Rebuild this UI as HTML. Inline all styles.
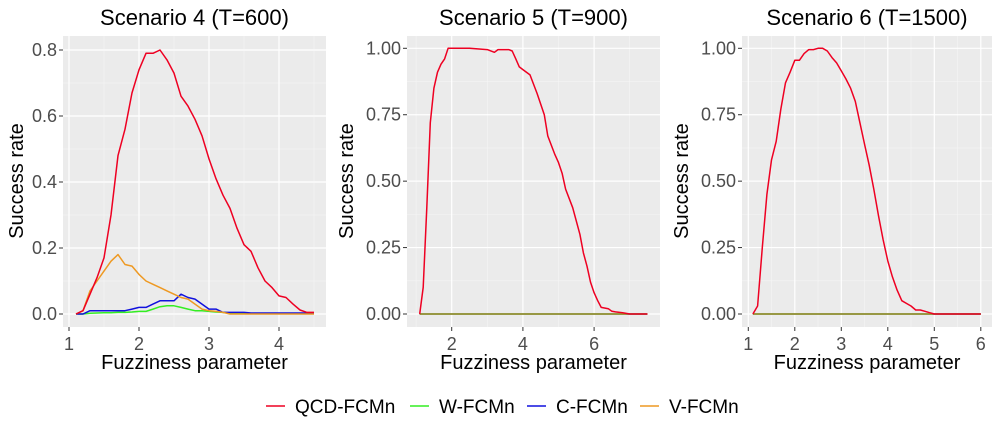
<!DOCTYPE html>
<html><head><meta charset="utf-8"><style>
body{margin:0;background:#fff;}
svg{display:block;font-family:"Liberation Sans",Arial,sans-serif;}
</style></head><body>
<svg id="c" width="1000" height="430"></svg>
<script>
const NS="http://www.w3.org/2000/svg";
const seriesNames=["QCD-FCMn","W-FCMn","C-FCMn","V-FCMn"];
const seriesColors=["#ee0022","#33ee22","#1111dd","#ee9922"];
// Scenario 4
const s4x=[1.1,1.2,1.3,1.4,1.5,1.6,1.7,1.8,1.9,2.0,2.1,2.2,2.3,2.4,2.5,2.6,2.7,2.8,2.9,3.0,3.1,3.2,3.3,3.4,3.5,3.6,3.7,3.8,3.9,4.0,4.1,4.2,4.3,4.4,4.5];
const s4red=[0,0.01,0.06,0.11,0.17,0.3,0.48,0.56,0.67,0.74,0.79,0.79,0.80,0.77,0.73,0.66,0.63,0.59,0.54,0.47,0.41,0.36,0.32,0.26,0.21,0.19,0.14,0.10,0.08,0.055,0.05,0.03,0.012,0.005,0.005];
const s4green=[0,0,0.002,0.003,0.004,0.004,0.005,0.005,0.006,0.008,0.008,0.015,0.022,0.025,0.025,0.02,0.015,0.01,0.01,0.008,0.006,0.005,0.003,0.002,0.002,0.002,0.002,0.002,0.002,0.002,0.002,0.002,0.002,0.002,0.002];
const s4blue=[0,0,0.01,0.01,0.01,0.01,0.01,0.01,0.015,0.02,0.02,0.03,0.04,0.04,0.04,0.06,0.05,0.045,0.03,0.015,0.015,0.005,0.005,0.005,0.005,0.003,0.003,0.003,0.003,0.003,0.003,0.003,0.003,0.003,0.003];
const s4orange=[0,0.01,0.07,0.10,0.13,0.16,0.18,0.15,0.145,0.12,0.10,0.09,0.08,0.07,0.06,0.05,0.045,0.03,0.015,0.01,0.008,0.005,0,0,0,0,0,0,0,0,0,0,0,0,0];
// Scenario 5
const s5x=[1.1,1.2,1.3,1.4,1.5,1.6,1.7,1.8,1.9,2.0,2.5,3.0,3.2,3.3,3.6,3.7,3.8,3.9,4.0,4.2,4.4,4.6,4.7,4.9,5.0,5.1,5.2,5.4,5.6,5.7,5.8,5.9,6.0,6.1,6.2,6.4,6.5,6.6,6.8,7.0,7.5];
const s5red=[0,0.1,0.4,0.72,0.85,0.91,0.94,0.96,1.0,1.0,1.0,0.995,0.985,0.995,0.995,0.99,0.96,0.93,0.92,0.9,0.83,0.75,0.67,0.6,0.57,0.53,0.47,0.4,0.3,0.23,0.18,0.12,0.08,0.05,0.025,0.02,0.01,0.008,0.005,0,0];
const s5flatx=[1.1,7.5];
const s5flat=[0,0];
// Scenario 6
const s6x=[1.1,1.2,1.3,1.4,1.5,1.6,1.7,1.8,1.9,2.0,2.1,2.2,2.3,2.4,2.5,2.6,2.7,2.8,2.9,3.0,3.1,3.2,3.3,3.4,3.5,3.6,3.7,3.8,3.9,4.0,4.1,4.2,4.3,4.4,4.5,4.6,4.7,4.8,4.9,5.0,6.0];
const s6red=[0,0.03,0.25,0.45,0.58,0.65,0.77,0.87,0.91,0.955,0.955,0.98,0.995,0.995,1.0,1.0,0.99,0.965,0.945,0.915,0.885,0.85,0.8,0.72,0.64,0.56,0.47,0.37,0.28,0.2,0.14,0.09,0.05,0.04,0.03,0.015,0.015,0.01,0.005,0,0];
const s6flatx=[1.1,6.0];
const s6flat=[0,0];
const s4xt=[1,2,3,4], s4yt=[0,0.2,0.4,0.6,0.8], s4yl=["0.0","0.2","0.4","0.6","0.8"];
const s5xt=[2,4,6], s5yt=[0,0.25,0.5,0.75,1], s5yl=["0.00","0.25","0.50","0.75","1.00"];
const s6xt=[1,2,3,4,5,6];

const svg=document.getElementById('c');
function el(t,a,p){const e=document.createElementNS(NS,t);for(const k in a)e.setAttribute(k,a[k]);(p||svg).appendChild(e);return e;}
function txt(s,a,p){const e=el('text',a,p);e.textContent=s;return e;}

function panel(o){
  const g=el('g',{});
  
  
  const X=v=>o.px0+(v-o.x0)*o.kx, Y=v=>o.py0-v*o.ky;
  const bg=el('rect',{x:o.L,y:36,width:o.R-o.L,height:291,fill:'#ebebeb'},g);
  
  for(let i=0;i<o.xt.length+1;i++){const v=o.xt[0]+(i-0.5)*(o.xt[1]-o.xt[0]);const x=X(v);if(x>o.L&&x<o.R)el('line',{x1:x,x2:x,y1:36,y2:327,stroke:'#f5f5f5','stroke-width':0.6},g);}
  for(let i=0;i<o.yt.length-1;i++){const y=Y((o.yt[i]+o.yt[i+1])/2);el('line',{x1:o.L,x2:o.R,y1:y,y2:y,stroke:'#f5f5f5','stroke-width':0.6},g);}
  o.xt.forEach(v=>{const x=X(v);
    el('line',{x1:x,x2:x,y1:36,y2:327,stroke:'#fff','stroke-width':1.2},g);
    el('line',{x1:x,x2:x,y1:327,y2:331,stroke:'#333','stroke-width':1},g);
    const t=txt(String(v),{x:x,y:350,'text-anchor':'middle','font-size':18,fill:'#4d4d4d'},g);
    });
  o.yt.forEach((v,i)=>{const y=Y(v);
    el('line',{x1:o.L,x2:o.R,y1:y,y2:y,stroke:'#fff','stroke-width':1.2},g);
    el('line',{x1:o.L-4,x2:o.L,y1:y,y2:y,stroke:'#333','stroke-width':1},g);
    const t=txt(o.yl[i],{x:o.L-6,y:y+6,'text-anchor':'end','font-size':18,fill:'#4d4d4d'},g);
    });
  o.series.forEach(s=>{
    const d=s.x.map((v,i)=>(i?'L':'M')+X(v).toFixed(1)+','+Y(s.y[i]).toFixed(1)).join('');
    const p=el('path',{d:d,fill:'none',stroke:s.c,'stroke-width':1.5,'stroke-linejoin':'round'},g);
    });
  const tt=txt(o.title,{x:(o.L+o.R)/2,y:25,'text-anchor':'middle','font-size':22,fill:'#000'},g);
  
  const xt=txt('Fuzziness parameter',{x:(o.L+o.R)/2,y:369,'text-anchor':'middle','font-size':20,fill:'#000'},g);
  
  const yx=o.yx;
  const yt=txt('Success rate',{x:yx,y:181,'text-anchor':'middle','font-size':20,fill:'#000',transform:`rotate(-90 ${yx} 181)`},g);
  
}
panel({name:'scenario-4-panel',title:'Scenario 4 (T=600)',L:63,R:326,yx:23,px0:69,x0:1,kx:70,py0:314,ky:330,xt:s4xt,yt:s4yt,yl:s4yl,
 series:[{x:s4x,y:s4green,c:seriesColors[1],n:'w-fcmn'},{x:s4x,y:s4blue,c:seriesColors[2],n:'c-fcmn'},{x:s4x,y:s4orange,c:seriesColors[3],n:'v-fcmn'},{x:s4x,y:s4red,c:seriesColors[0],n:'qcd-fcmn'}]});
panel({name:'scenario-5-panel',title:'Scenario 5 (T=900)',L:407,R:660,yx:353,px0:451.7,x0:2,kx:35.6,py0:314,ky:265.7,xt:s5xt,yt:s5yt,yl:s5yl,
 series:[{x:s5flatx,y:s5flat,c:seriesColors[1],n:'w-fcmn'},{x:s5flatx,y:s5flat,c:seriesColors[2],n:'c-fcmn'},{x:s5flatx,y:s5flat,c:'#b0a020',n:'v-fcmn'},{x:s5x,y:s5red,c:seriesColors[0],n:'qcd-fcmn'}]});
panel({name:'scenario-6-panel',title:'Scenario 6 (T=1500)',L:742,R:992,yx:688,px0:748.3,x0:1,kx:46.5,py0:314,ky:265.7,xt:s6xt,yt:s5yt,yl:s5yl,
 series:[{x:s6flatx,y:s6flat,c:seriesColors[1],n:'w-fcmn'},{x:s6flatx,y:s6flat,c:seriesColors[2],n:'c-fcmn'},{x:s6flatx,y:s6flat,c:'#b0a020',n:'v-fcmn'},{x:s6x,y:s6red,c:seriesColors[0],n:'qcd-fcmn'}]});
const lg=el('g',{});

const lx=[266,410,527,640];
seriesNames.forEach((n,i)=>{
  const e=el('g',{},lg);
  
  el('line',{x1:lx[i],x2:lx[i]+19,y1:406,y2:406,stroke:seriesColors[i],'stroke-width':1.5},e);
  txt(n,{x:lx[i]+29,y:413,'font-size':19,fill:'#000'},e);
});
</script>
</body></html>
